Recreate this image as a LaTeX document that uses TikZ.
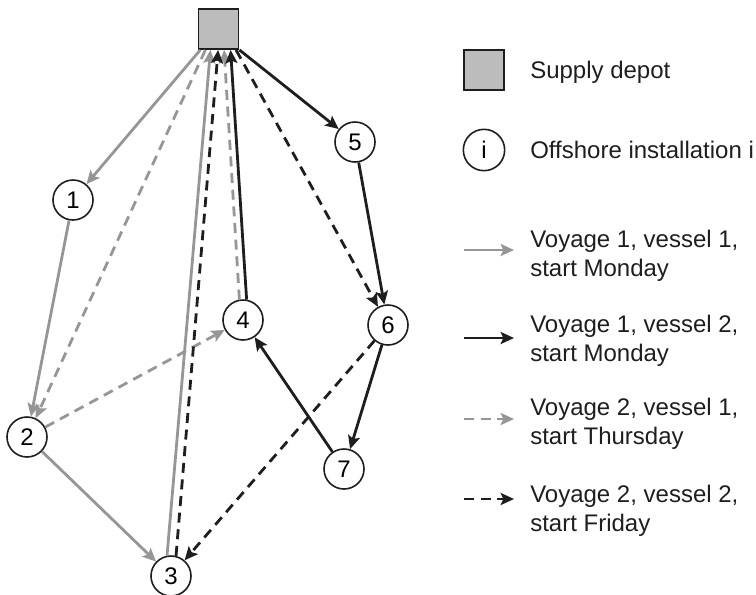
\documentclass[tikz,border=0pt]{standalone}
\usepackage{fontspec}
\setmainfont{Liberation Sans}
\usepackage{tikz}
\usetikzlibrary{
  positioning,
  arrows.meta
}
\definecolor{lgray}{RGB}{150,150,150}
\definecolor{dgray}{RGB}{30,30,30}
\definecolor{dfill}{RGB}{188,188,188}
\tikzstyle{depot}=[draw=dgray, line width=1.4pt, fill=dfill, minimum size=30pt, inner sep=0pt]
\tikzstyle{inst}=[circle, draw=dgray, line width=1.2pt, fill=white, minimum size=30pt, inner sep=0pt]
\tikzstyle{leg}=[anchor=west, inner sep=0pt, align=left, text=dgray]
\tikzstyle{route}=[line width=2.1pt, -{Stealth[length=10pt, width=9pt, inset=2pt]}]
\tikzstyle{tripA}=[route, lgray]
\tikzstyle{tripB}=[route, dgray]
\tikzstyle{tripC}=[route, lgray, dash pattern=on 7.5pt off 5pt]
\tikzstyle{tripD}=[route, dgray, dash pattern=on 7.5pt off 5pt]

\begin{document}
\begin{tikzpicture}[x=0.75pt, y=-0.75pt, font=\fontsize{18}{22}\selectfont]
    \useasboundingbox (0,0) rectangle (756,594);

    % depot
    \node[depot] (D) at (218.5,29) {};

    % installations
    \node[inst] (P1) at (73,200) {1};
    \node[inst] (P2) at (27,437) {2};
    \node[inst] (P3) at (171,576) {3};
    \node[inst] (P4) at (243,320) {4};
    \node[inst] (P5) at (355,142) {5};
    \node[inst] (P6) at (388,325) {6};
    \node[inst] (P7) at (344,469) {7};

    % voyage 1, vessel 1
    \draw[tripA] (D.-131) -- (P1);
    \draw[tripA] (P1) -- (P2);
    \draw[tripA] (P2) -- (P3);
    \draw[tripA] (P3.101) -- (D.-111);

    % voyage 2, vessel 1
    \draw[tripC] (D.-122) -- (P2);
    \draw[tripC] (P2) -- (P4);
    \draw[tripC] (P4.100) -- (D.-75);

    % voyage 1, vessel 2
    \draw[tripB] (D.-45) -- (P5);
    \draw[tripB] (P5) -- (P6);
    \draw[tripB] (P6) -- (P7);
    \draw[tripB] (P7) -- (P4);
    \draw[tripB] (P4.80) -- (D.-60);

    % voyage 2, vessel 2
    \draw[tripD] (D.-50) -- (P6);
    \draw[tripD] (P6) -- (P3);
    \draw[tripD] (P3.76) -- (D.-91);

    % legend
    \node[depot] (LD) at (484,70) {};
    \node[leg] (tD) at (530,72) {Supply depot};
    \node[inst, minimum size=31pt] (LI) at (484,150) {i};
    \node[leg] (tI) at (530,149.5) {Offshore installation i};

    \coordinate (a1) at (464,250);
    \coordinate (b1) at (514,250);
    \draw[tripA] (a1) -- (b1);
    \node[leg] (t1) at (530,255.5) {Voyage 1, vessel 1,\\start Monday};

    \coordinate (a2) at (464,338);
    \coordinate (b2) at (514,338);
    \draw[tripB] (a2) -- (b2);
    \node[leg] (t2) at (530,340.5) {Voyage 1, vessel 2,\\start Monday};

    \coordinate (a3) at (464,419);
    \coordinate (b3) at (514,419);
    \draw[tripC] (a3) -- (b3);
    \node[leg] (t3) at (530,423.5) {Voyage 2, vessel 1,\\start Thursday};

    \coordinate (a4) at (464,499);
    \coordinate (b4) at (514,499);
    \draw[tripD] (a4) -- (b4);
    \node[leg] (t4) at (530,511) {Voyage 2, vessel 2,\\start Friday};
  \end{tikzpicture}
\end{document}
